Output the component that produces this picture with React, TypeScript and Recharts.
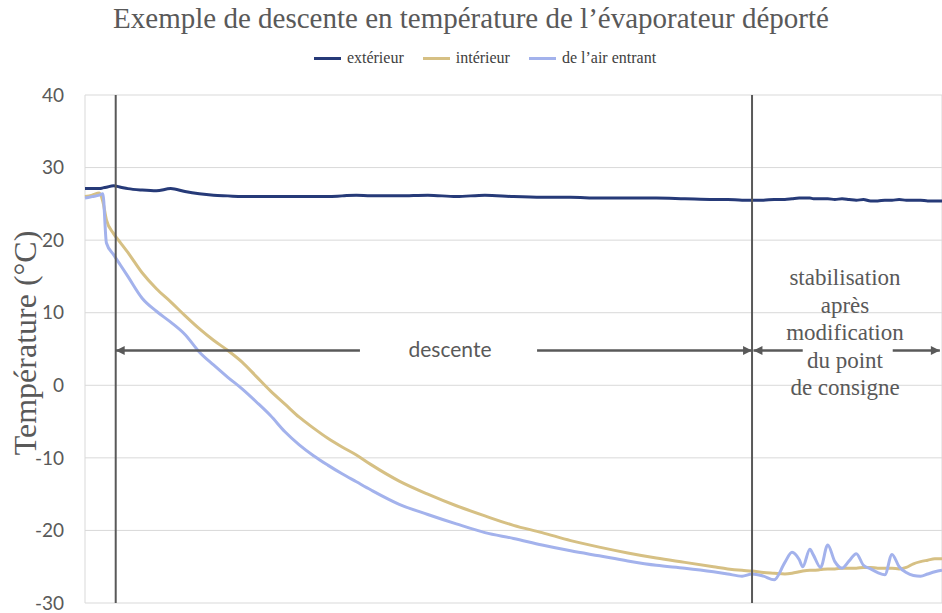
import React from "react"
import { LineChart, Line, XAxis, YAxis, CartesianGrid, ReferenceLine, Legend } from "recharts"

// time index (arbitrary units, no labels on the x axis)
const times = [
  0, 1, 2, 2.5, 3, 4, 5, 6, 8, 10,
  12, 14, 16, 18, 20, 22, 24, 26, 28, 30,
  32, 34, 36, 38, 40, 44, 48, 52, 56, 60,
  64, 68, 72, 76, 80, 84, 88, 90, 92, 93.4,
  95, 96.5, 98, 99, 100, 100.5, 101.5, 102, 103, 104,
  105, 106, 107, 108, 109, 110, 111, 112, 113, 114,
  115, 116, 117, 118, 119, 120,
]

const exterieur = [
  27.1, 27.1, 27.1, 27.2, 27.3, 27.5, 27.3, 27.1, 26.9, 26.8,
  27.1, 26.7, 26.4, 26.2, 26.1, 26.0, 26.0, 26.0, 26.0, 26.0,
  26.0, 26.0, 26.1, 26.2, 26.1, 26.1, 26.2, 26.0, 26.2, 26.0,
  25.9, 25.9, 25.8, 25.8, 25.8, 25.7, 25.6, 25.6, 25.5, 25.5,
  25.5, 25.6, 25.6, 25.7, 25.8, 25.8, 25.8, 25.7, 25.7, 25.7,
  25.6, 25.7, 25.6, 25.5, 25.6, 25.4, 25.4, 25.5, 25.5, 25.6,
  25.5, 25.5, 25.5, 25.4, 25.4, 25.4,
]

const interieur = [
  26.0, 26.2, 26.5, 25.3, 22.8, 20.9, 19.6, 18.3, 15.5, 13.3,
  11.5, 9.6, 7.8, 6.2, 4.8, 3.2, 1.2, -0.8, -2.6, -4.4,
  -5.9, -7.3, -8.5, -9.6, -10.9, -13.2, -15.0, -16.6, -18.0, -19.3,
  -20.3, -21.4, -22.3, -23.1, -23.8, -24.4, -25.0, -25.3, -25.5, -25.6,
  -25.8, -25.9, -26.0, -25.9, -25.7, -25.6, -25.5, -25.5, -25.4, -25.3,
  -25.3, -25.2, -25.2, -25.2, -25.1, -25.1, -25.2, -25.2, -25.2, -25.3,
  -25.1, -24.6, -24.3, -24.1, -23.9, -23.9,
]

const airEntrant = [
  25.8, 26.0, 26.2, 26.4, 19.6, 18.0, 16.5, 15.0, 12.0, 10.2,
  8.7, 7.0, 4.6, 2.8, 1.1, -0.5, -2.3, -4.2, -6.4, -8.2,
  -9.7, -11.0, -12.2, -13.3, -14.4, -16.4, -17.8, -19.1, -20.3, -21.1,
  -22.0, -22.8, -23.5, -24.2, -24.8, -25.2, -25.7, -26.0, -26.3, -26.0,
  -26.3, -26.8, -24.4, -23.0, -24.0, -25.0, -22.6, -23.4, -25.1, -22.0,
  -24.3, -25.2, -24.2, -23.2, -24.8, -25.3, -25.8, -26.1, -23.3, -25.0,
  -25.8, -26.2, -26.3, -26.0, -25.7, -25.5,
]

const yTicks = [-30, -20, -10, 0, 10, 20, 30, 40]
const xGrid = [0, 20, 40, 60, 80, 100, 120]

// series: key, legend label, colour (legend order)
const series = [
  { key: "exterieur", name: "extérieur", color: "#263a78" },
  { key: "interieur", name: "intérieur", color: "#d6c084" },
  { key: "air", name: "de l’air entrant", color: "#a3b2ec" },
]

// annotation: phase boundaries and arrows
const phaseMarks = [4.3, 93.4]
const arrowLevel = 4.8
const arrows: { from: number; to: number; head: "left" | "right" }[] = [
  { from: 4.3, to: 38.5, head: "left" },
  { from: 63.3, to: 93.4, head: "right" },
  { from: 93.6, to: 100.5, head: "left" },
  { from: 113.1, to: 119.7, head: "right" },
]

const data = times.map((t, i) => ({
  t,
  exterieur: exterieur[i],
  interieur: interieur[i],
  air: airEntrant[i],
}))

const GREY = "#595959"
const SERIF = "'Liberation Serif', 'Times New Roman', serif"
const SANS = "Lato, 'Open Sans', sans-serif"

const arrowShape = (head: "left" | "right") => (props: any) => {
  const { x1, y1, x2 } = props
  const left = Math.min(x1, x2)
  const right = Math.max(x1, x2)
  const y = y1
  const tip = head === "left" ? left : right
  const back = head === "left" ? tip + 9 : tip - 9
  return (
    <g>
      <line x1={left} y1={y} x2={right} y2={y} stroke={GREY} strokeWidth={2.5} />
      <polygon points={`${tip},${y} ${back},${y - 4.5} ${back},${y + 4.5}`} fill={GREY} />
    </g>
  )
}

const renderLegend = () => (
  <div style={{ display: "flex", justifyContent: "center", gap: 19, fontFamily: SERIF, fontSize: 16, color: "#404040", paddingLeft: 28 }}>
    {series.map((s) => (
      <div key={s.key} style={{ display: "flex", alignItems: "center", gap: 6 }}>
        <span style={{ display: "inline-block", width: 27, height: 3, background: s.color }} />
        <span>{s.name}</span>
      </div>
    ))}
  </div>
)

export default function App() {
  return (
    <div style={{ position: "fixed", left: 0, top: 0, width: 942, height: 613, background: "#fff", overflow: "hidden" }}>
      <div
        style={{
          position: "absolute",
          top: 2,
          left: 0,
          width: 942,
          textAlign: "center",
          fontFamily: SERIF,
          fontSize: 29,
          color: GREY,
        }}
      >
        Exemple de descente en température de l’évaporateur déporté
      </div>
      <LineChart width={942} height={613} data={data} margin={{ top: 95, right: 0, bottom: 9, left: 0 }}>
        <CartesianGrid stroke="#d9d9d9" strokeWidth={1} />
        <XAxis
          dataKey="t"
          type="number"
          domain={[0, 120]}
          ticks={xGrid}
          tick={false}
          tickLine={false}
          axisLine={false}
          height={1}
        />
        <YAxis
          type="number"
          domain={[-30, 40]}
          ticks={yTicks}
          interval={0}
          width={85}
          axisLine={false}
          tickLine={false}
          tickMargin={15}
          tick={{ fill: GREY, fontSize: 19, fontFamily: SANS }}
          label={(p: any) => {
            const vb = p.viewBox || { x: 0, y: 95, width: 85, height: 508 }
            const cx = 25
            const cy = vb.y + vb.height / 2 - 6
            return (
              <text
                x={cx}
                y={cy}
                transform={`rotate(-90, ${cx}, ${cy})`}
                textAnchor="middle"
                dominantBaseline="central"
                fill={GREY}
                fontFamily={SERIF}
                fontSize={32}
              >
                Température (°C)
              </text>
            )
          }}
        />
        <Legend
          verticalAlign="middle"
          align="center"
          content={renderLegend}
          wrapperStyle={{ top: 49, left: 0, width: 942 }}
        />
        {series.map((s) => (
          <Line
            key={s.key}
            name={s.name}
            dataKey={s.key}
            type="monotone"
            stroke={s.color}
            strokeWidth={3}
            dot={false}
            isAnimationActive={false}
          />
        ))}
        {phaseMarks.map((x) => (
          <ReferenceLine key={x} x={x} stroke={GREY} strokeWidth={2} />
        ))}
        {arrows.map((a, i) => (
          <ReferenceLine
            key={i}
            segment={[
              { x: a.from, y: arrowLevel },
              { x: a.to, y: arrowLevel },
            ]}
            shape={arrowShape(a.head)}
          />
        ))}
      </LineChart>
      <div
        style={{
          position: "absolute",
          left: 390,
          top: 336,
          width: 120,
          textAlign: "center",
          fontFamily: SANS,
          fontSize: 21,
          color: GREY,
        }}
      >
        descente
      </div>
      <div
        style={{
          position: "absolute",
          left: 765,
          top: 264,
          width: 160,
          textAlign: "center",
          fontFamily: SERIF,
          fontSize: 23,
          lineHeight: "27.5px",
          color: GREY,
        }}
      >
        stabilisation
        <br />
        après
        <br />
        modification
        <br />
        du point
        <br />
        de consigne
      </div>
    </div>
  )
}
